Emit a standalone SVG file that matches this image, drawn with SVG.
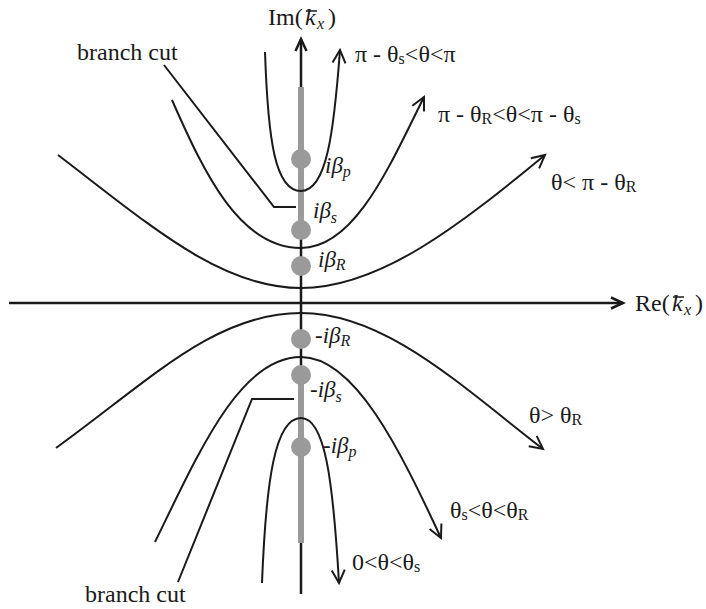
<svg xmlns="http://www.w3.org/2000/svg" width="706" height="609" viewBox="0 0 706 609">
<style>
text{font-family:"Liberation Serif","DejaVu Serif",serif;fill:#1a1a1a;font-size:24px}
.it{font-style:italic}
.sub{font-size:16px}
.lab{font-size:23px}
.c{fill:none;stroke:#1a1a1a;stroke-width:2}
.ax{fill:none;stroke:#1a1a1a;stroke-width:2.5}
.cut{fill:none;stroke:#9a9a9a;stroke-width:6}
.pt{fill:#9a9a9a}
</style>
<defs>
<marker id="ah" markerUnits="userSpaceOnUse" markerWidth="30" markerHeight="30" refX="0" refY="0" viewBox="-15 -15 30 30" orient="auto">
<path d="M-13,-6.5 L0,0 L-13,6.5" fill="none" stroke="#1a1a1a" stroke-width="2"/>
</marker>
<marker id="aa" markerUnits="userSpaceOnUse" markerWidth="30" markerHeight="30" refX="0" refY="0" viewBox="-15 -15 30 30" orient="auto">
<path d="M-12,-5.5 L0,0 L-12,5.5" fill="none" stroke="#1a1a1a" stroke-width="2.5"/>
</marker>
</defs>
<g id="axes">
<line class="ax" x1="9" y1="303" x2="623" y2="303" marker-end="url(#aa)"/>
<line class="ax" x1="301" y1="594" x2="301" y2="39" marker-end="url(#aa)"/>
<text x="268" y="25">Im(</text>
<text class="it" x="305" y="25">k</text>
<line x1="306" y1="11" x2="317" y2="11" stroke="#1a1a1a" stroke-width="1.5"/>
<text class="it sub" x="317" y="29">x</text>
<text x="328" y="25">)</text>
<text x="635" y="311">Re(</text>
<text class="it" x="672" y="311">k</text>
<line x1="673" y1="297" x2="684" y2="297" stroke="#1a1a1a" stroke-width="1.5"/>
<text class="it sub" x="684" y="315">x</text>
<text x="695" y="311">)</text>
</g>
<g id="branch-cuts">
<line class="cut" x1="301" y1="87" x2="301" y2="232"/>
<line class="cut" x1="301" y1="375" x2="301" y2="543"/>
<polyline class="c" points="164,65 274,207 296,207"/>
<polyline class="c" points="294,399 252,399 178,582"/>
<text x="77" y="60">branch cut</text>
<text x="85" y="602">branch cut</text>
</g>
<g id="poles">
<circle class="pt" cx="301" cy="159" r="10"/>
<circle class="pt" cx="301" cy="230" r="10"/>
<circle class="pt" cx="301" cy="266" r="10"/>
<circle class="pt" cx="301" cy="339" r="10"/>
<circle class="pt" cx="301" cy="375" r="10"/>
<circle class="pt" cx="301" cy="447" r="10"/>
<text class="lab it" x="325" y="173">iβ<tspan class="sub" dy="4">p</tspan></text>
<text class="lab it" x="313" y="218">iβ<tspan class="sub" dy="5">s</tspan></text>
<text class="lab it" x="318" y="267">iβ<tspan class="sub" dy="3">R</tspan></text>
<text class="lab it" x="315" y="343"><tspan font-style="normal">-</tspan>iβ<tspan class="sub" dy="3">R</tspan></text>
<text class="lab it" x="310" y="397"><tspan font-style="normal">-</tspan>iβ<tspan class="sub" dy="5">s</tspan></text>
<text class="lab it" x="323" y="453"><tspan font-style="normal">-</tspan>iβ<tspan class="sub" dy="4">p</tspan></text>
</g>
<g id="connectors">
<path class="c" d="M265,52 C268,140 275,191 301,191 C327,191 334,130 340,50" marker-end="url(#ah)"/>
<path class="c" d="M172,100 C205,175 240,248 301,248 C355,248 390,165 424,97" marker-end="url(#ah)"/>
<path class="c" d="M58,155 C150,225 220,288 301,288 C380,288 460,225 545,155" marker-end="url(#ah)"/>
<path class="c" d="M56,448 C150,380 215,313 301,313 C385,313 460,385 543,449" marker-end="url(#ah)"/>
<path class="c" d="M155,542 C200,450 240,357 301,357 C355,357 400,450 441,538" marker-end="url(#ah)"/>
<path class="c" d="M262,583 C266,480 275,418 301,418 C325,418 333,480 339,583" marker-end="url(#ah)"/>
</g>
<g id="labels">
<text x="355" y="62">π - θ<tspan class="sub" dy="2">s</tspan><tspan dy="-2">&lt;θ&lt;π</tspan></text>
<text x="438" y="122">π - θ<tspan class="sub" dy="2">R</tspan><tspan dy="-2">&lt;θ&lt;π - θ</tspan><tspan class="sub" dy="2">s</tspan></text>
<text x="551" y="190">θ&lt; π - θ<tspan class="sub" dy="2">R</tspan></text>
<text x="529" y="423">θ&gt; θ<tspan class="sub" dy="2">R</tspan></text>
<text x="450" y="518">θ<tspan class="sub" dy="2">s</tspan><tspan dy="-2">&lt;θ&lt;θ</tspan><tspan class="sub" dy="2">R</tspan></text>
<text x="352" y="570">0&lt;θ&lt;θ<tspan class="sub" dy="2">s</tspan></text>
</g>
</svg>
